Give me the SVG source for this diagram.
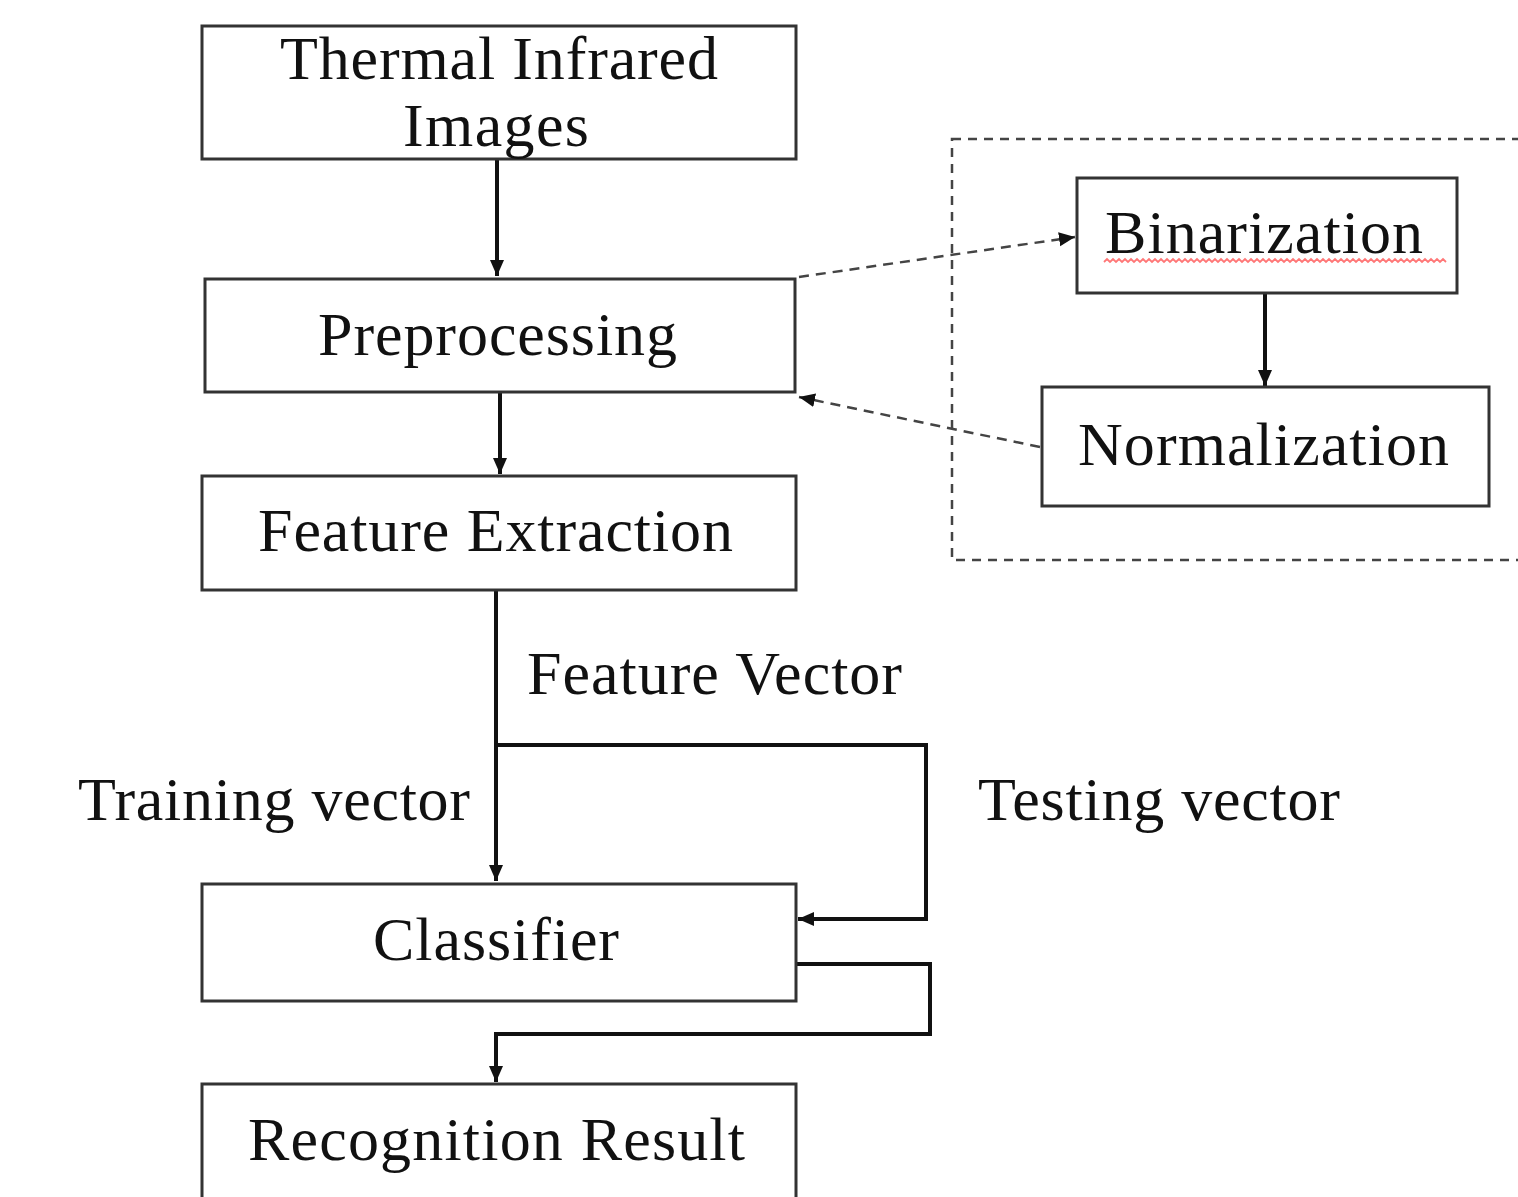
<svg xmlns="http://www.w3.org/2000/svg" width="1518" height="1197" viewBox="0 0 1518 1197">
<style>
.box{fill:#fff;stroke:#333;stroke-width:3}
.t{font-family:"Liberation Serif","Times New Roman",serif;font-size:62px;fill:#111}
.c{fill:none;stroke:#111;stroke-width:4}
.d{fill:none;stroke:#444;stroke-width:2.5;stroke-dasharray:10 7}
.grp{fill:none;stroke:#444;stroke-width:2.5;stroke-dasharray:9 7}
</style>
<defs>
<marker id="ah" markerUnits="userSpaceOnUse" markerWidth="18" markerHeight="16" refX="16" refY="8" orient="auto">
<path d="M0,1 L16,8 L0,15 z" fill="#111"/>
</marker>
</defs>
<rect width="1518" height="1197" fill="#fff"/>
<rect class="grp" x="952" y="139" width="580" height="421"/>
<g id="connectors">
<path class="c" d="M497,159 L497,276" marker-end="url(#ah)"/>
<path class="c" d="M500,393 L500,474" marker-end="url(#ah)"/>
<path class="c" d="M496,591 L496,881" marker-end="url(#ah)"/>
<path class="c" d="M496,745 L926,745 L926,919 L798,919" marker-end="url(#ah)"/>
<path class="c" d="M797,964 L930,964 L930,1034 L496,1034 L496,1082" marker-end="url(#ah)"/>
<path class="c" d="M1265,293 L1265,386" marker-end="url(#ah)"/>
<path class="d" d="M799,277 L1075,237" marker-end="url(#ah)"/>
<path class="d" d="M1040,447 L799,397" marker-end="url(#ah)"/>
</g>
<g id="n-thermal">
<rect class="box" x="202" y="26" width="594" height="133"/>
<text class="t" x="280" y="79" textLength="438" lengthAdjust="spacing">Thermal Infrared</text>
<text class="t" x="403" y="146" textLength="186" lengthAdjust="spacing">Images</text>
</g>
<g id="n-preprocessing">
<rect class="box" x="205" y="279" width="590" height="113"/>
<text class="t" x="318" y="355" textLength="359" lengthAdjust="spacing">Preprocessing</text>
</g>
<g id="n-feature">
<rect class="box" x="202" y="476" width="594" height="114"/>
<text class="t" x="258" y="551" textLength="475" lengthAdjust="spacing">Feature Extraction</text>
</g>
<g id="n-binarization">
<rect class="box" x="1077" y="178" width="380" height="115"/>
<text class="t" x="1105" y="253" textLength="318" lengthAdjust="spacing">Binarization</text>
<path d="M1104,262 l3,-3 l3,3 l3,-3 l3,3 l3,-3 l3,3 l3,-3 l3,3 l3,-3 l3,3 l3,-3 l3,3 l3,-3 l3,3 l3,-3 l3,3 l3,-3 l3,3 l3,-3 l3,3 l3,-3 l3,3 l3,-3 l3,3 l3,-3 l3,3 l3,-3 l3,3 l3,-3 l3,3 l3,-3 l3,3 l3,-3 l3,3 l3,-3 l3,3 l3,-3 l3,3 l3,-3 l3,3 l3,-3 l3,3 l3,-3 l3,3 l3,-3 l3,3 l3,-3 l3,3 l3,-3 l3,3 l3,-3 l3,3 l3,-3 l3,3 l3,-3 l3,3 l3,-3 l3,3 l3,-3 l3,3 l3,-3 l3,3 l3,-3 l3,3 l3,-3 l3,3 l3,-3 l3,3 l3,-3 l3,3 l3,-3 l3,3 l3,-3 l3,3 l3,-3 l3,3 l3,-3 l3,3 l3,-3 l3,3 l3,-3 l3,3 l3,-3 l3,3 l3,-3 l3,3 l3,-3 l3,3 l3,-3 l3,3 l3,-3 l3,3 l3,-3 l3,3 l3,-3 l3,3 l3,-3 l3,3 l3,-3 l3,3 l3,-3 l3,3 l3,-3 l3,3 l3,-3 l3,3 l3,-3 l3,3 l3,-3 l3,3 l3,-3 l3,3 l3,-3 l3,3" fill="none" stroke="#f77" stroke-width="1.8"/>
</g>
<g id="n-normalization">
<rect class="box" x="1042" y="387" width="447" height="119"/>
<text class="t" x="1078" y="465" textLength="371" lengthAdjust="spacing">Normalization</text>
</g>
<g id="labels">
<text class="t" x="527" y="694" textLength="375" lengthAdjust="spacing">Feature Vector</text>
<text class="t" x="78" y="820" textLength="392" lengthAdjust="spacing">Training vector</text>
<text class="t" x="978" y="820" textLength="362" lengthAdjust="spacing">Testing vector</text>
</g>
<g id="n-classifier">
<rect class="box" x="202" y="884" width="594" height="117"/>
<text class="t" x="373" y="960" textLength="246" lengthAdjust="spacing">Classifier</text>
</g>
<g id="n-result">
<rect class="box" x="202" y="1084" width="594" height="120"/>
<text class="t" x="248" y="1160" textLength="497" lengthAdjust="spacing">Recognition Result</text>
</g>
</svg>
